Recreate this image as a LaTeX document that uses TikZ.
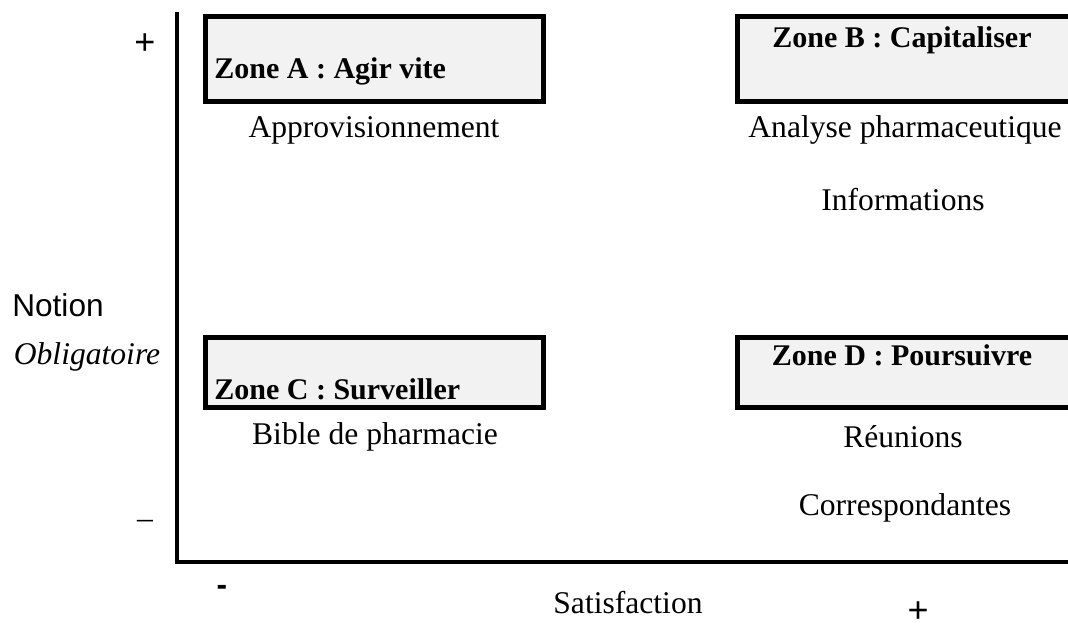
\documentclass[tikz,border=0pt]{standalone}
\usepackage{fontspec}
\setmainfont{Liberation Serif}
\setsansfont{Liberation Sans}
\usepackage{tikz}

\begin{document}
\begin{tikzpicture}[x=0.5pt,y=-0.5pt]
      \tikzstyle{zone}=[draw=black,line width=2.5pt,fill=black!5,inner sep=0pt,outer sep=0pt,minimum width=169pt]
      \tikzstyle{zone_title}=[font=\fontsize{15}{18}\selectfont\bfseries,inner sep=0pt]
      \tikzstyle{item}=[font=\fontsize{15.8}{18}\selectfont,inner sep=0pt]
      \tikzstyle{axis_text}=[font=\fontsize{15.8}{18}\selectfont\sffamily,inner sep=0pt]
      \tikzstyle{axis}=[line width=2.2pt]

      \useasboundingbox (0,0) rectangle (1068,629);

      % axes
      \coordinate (top) at (177,12);
      \coordinate (origin) at (177,562);
      \coordinate (end) at (1068,562);
      \draw [axis] (top) -- (origin) -- (end);

      % upper zones
      \node (zoneA) [zone,minimum height=42.5pt] at (374.5,59) {};
      \node at (214,78) [zone_title,anchor=base west] {Zone A : Agir vite};
      \node at (374,130) [item] {Approvisionnement};

      \node (zoneB) [zone,minimum height=42.5pt] at (906.5,59) {};
      \node at (902,47) [zone_title,anchor=base] {Zone B : Capitaliser};
      \node at (905,130) [item] {Analyse pharmaceutique};
      \node at (903,200) [item] {Informations};

      % lower zones
      \node (zoneC) [zone,minimum height=35pt] at (374.5,372.5) {};
      \node at (214,399) [zone_title,anchor=base west] {Zone C : Surveiller};
      \node at (375,437) [item] {Bible de pharmacie};

      \node (zoneD) [zone,minimum height=35pt] at (906.5,372.5) {};
      \node at (902,365) [zone_title,anchor=base] {Zone D : Poursuivre};
      \node at (903,437) [item] {Réunions};
      \node at (905,508) [item] {Correspondantes};

      % axis labels
      \node at (145,44) [axis_text,font=\fontsize{18}{20}\selectfont\sffamily] {+};
      \node at (145,524) [item] {--};
      \node at (58,305) [axis_text] {Notion};
      \node at (87,357) [item,font=\fontsize{15.8}{18}\selectfont\itshape] {Obligatoire};
      \node at (222,590) [axis_text,font=\fontsize{15.8}{18}\selectfont\sffamily\bfseries] {-};
      \node at (628,603) [item] {Satisfaction};
      \node at (918,612) [axis_text,font=\fontsize{18}{20}\selectfont\sffamily] {+};
\end{tikzpicture}
\end{document}
